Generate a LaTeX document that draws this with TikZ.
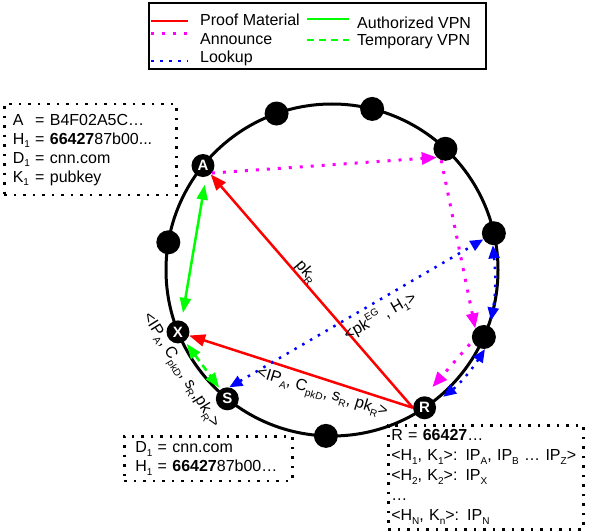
\documentclass[tikz,border=0pt]{standalone}
\usepackage{fontspec}
\setmainfont{Liberation Sans}
\usetikzlibrary{arrows.meta}
\definecolor{annc}{RGB}{255,0,255}
\definecolor{lookc}{RGB}{0,0,255}
\definecolor{vpnc}{RGB}{0,255,0}
\definecolor{proofc}{RGB}{255,0,0}
\newcommand\lo[1]{\raisebox{-0.45ex}{\fontsize{10}{10}\selectfont #1}}
\newcommand\hi[1]{\raisebox{0.85ex}{\fontsize{10}{10}\selectfont #1}}
\begin{document}
\begin{tikzpicture}[x=1pt,y=1pt,
  every node/.style={font=\fontsize{16}{19}\selectfont},
  blackdot/.style={circle, fill=black, minimum size=24pt, inner sep=0pt},
  peer/.style={circle, fill=black, minimum size=23pt, inner sep=0pt, text=white, font=\fontsize{15}{15}\selectfont\bfseries},
  ring/.style={line width=3pt},
  proof/.style={proofc, line width=2.5pt, -{Triangle[length=16pt,width=12pt]}},
  annline/.style={annc, line width=3pt, dash pattern=on 3pt off 8pt},
  ann/.style={annline, -{Triangle[length=15pt,width=12pt]}},
  lookline/.style={lookc, line width=2.5pt, dash pattern=on 2.5pt off 6.5pt},
  look/.style={lookline, {Triangle[length=13pt,width=11pt]}-{Triangle[length=13pt,width=11pt]}},
  auth/.style={vpnc, line width=2.5pt, {Triangle[length=15pt,width=11pt]}-{Triangle[length=15pt,width=11pt]}},
  templine/.style={vpnc, line width=2.5pt, dash pattern=on 7pt off 5pt},
  temp/.style={templine, {Triangle[length=15pt,width=11pt]}-{Triangle[length=15pt,width=11pt]}},
  dotbox/.style={draw, line width=2.5pt, dash pattern=on 2.5pt off 7pt, anchor=north west, align=left},
  legtext/.style={anchor=west, inner sep=0pt}
]
\useasboundingbox (0,0) rectangle (603,531);

% legend
\node[draw, line width=2pt, anchor=north west, minimum width=337pt, minimum height=66pt, inner sep=0pt] (legend) at (148,529) {};
\draw[proofc, line width=2.5pt] (151,510) -- (188,510);
\draw[annline] (151,497) -- (188,497);
\draw[lookline] (151,470) -- (188,470);
\draw[vpnc, line width=2.5pt] (307,512) -- (349,512);
\draw[templine] (307,491) -- (349,491);
\node[legtext] (l1) at (200,511) {Proof Material};
\node[legtext] (l2) at (200,492) {Announce};
\node[legtext] (l3) at (200,473) {Lookup};
\node[legtext] (l4) at (357,508) {Authorized VPN};
\node[legtext] (l5) at (357,489) {Temporary VPN};

% ring
\coordinate (C) at (332,261);
\draw[ring] (C) circle (166);

\node[peer] (A) at ([shift={(141:166)}]C) {A};
\node[blackdot] (dL) at ([shift={(170.4:166)}]C) {};
\node[peer] (X) at ([shift={(201.9:166)}]C) {X};
\node[peer] (S) at ([shift={(230.9:166)}]C) {S};
\node[blackdot] (dB) at ([shift={(267.9:166)}]C) {};
\node[peer] (R) at ([shift={(303.9:166)}]C) {R};
\node[blackdot] (d336) at ([shift={(336.2:166)}]C) {};
\node[blackdot] (d13) at ([shift={(12.8:166)}]C) {};
\node[blackdot] (d47) at ([shift={(46.9:166)}]C) {};
\node[blackdot] (d76) at ([shift={(76:166)}]C) {};
\node[blackdot] (d109) at ([shift={(109.5:166)}]C) {};

% proof material
\draw[proof] (R.west) -- (A);
\draw[proof] (R.west) -- (X);

% VPN
\draw[auth, shorten <=8pt, shorten >=8pt] (A.-75) -- (X.72);
\draw[temp, shorten <=3pt, shorten >=2pt] (X) -- (S);

% announce
\draw[ann] (A.-40) -- (d47.-135);
\draw[ann] (d47.-110) -- (d336.135);
\draw[ann, shorten <=4pt, shorten >=12pt] (d336.200) -- (R.north);

% lookup
\draw[look] (S.80) -- (d13);
\draw[look, shorten >=6pt] (d13.-95) to[bend left=8] (d336.60);
\draw[look, shorten >=10pt] (d336.-85) to[bend left=10] (R.25);

% labels
\node[rotate=-49.5] (lpk) at (306,259) {pk\lo{R}};
\node[rotate=30] (lpkeg) at (380,215) {<pk\hi{EG} , H\lo{1}>};
\node[rotate=-17] (lip1) at (322,137) {<IP\lo{A}, C\lo{pkD}, s\lo{R}, pk\lo{R}>};
\node[rotate=-58] (lip2) at (180,160) {<IP\lo{A}, C\lo{pkD}, s\lo{R},pk\lo{R}>};

% info boxes
\node[dotbox, minimum width=172pt, minimum height=91pt, inner xsep=8pt, text width=155pt] (box1) at (3,428)
  {\begin{tabular}{@{}l@{ = }l@{}}
   A & B4F02A5C…\\
   H\lo{1} & \textbf{66427}87b00...\\
   D\lo{1} & cnn.com\\
   K\lo{1} & pubkey
   \end{tabular}};
\node[dotbox, minimum width=168pt, minimum height=42pt, inner xsep=11pt, text width=146pt] (box2) at (123,96)
  {\begin{tabular}{@{}l@{ = }l@{}}
   D\lo{1} & cnn.com\\
   H\lo{1} & \textbf{66427}87b00…
   \end{tabular}};
\node[dotbox, minimum width=195pt, minimum height=104pt, inner xsep=3pt, text width=189pt, font=\fontsize{16}{20}\selectfont] (box3) at (387,107)
  {R = \textbf{66427}…\\
   <H\lo{1}, K\lo{1}>: IP\lo{A}, IP\lo{B} … IP\lo{Z}>\\
   <H\lo{2}, K\lo{2}>: IP\lo{X}\\
   …\\
   <H\lo{N}, K\lo{n}>: IP\lo{N}};
\end{tikzpicture}
\end{document}
